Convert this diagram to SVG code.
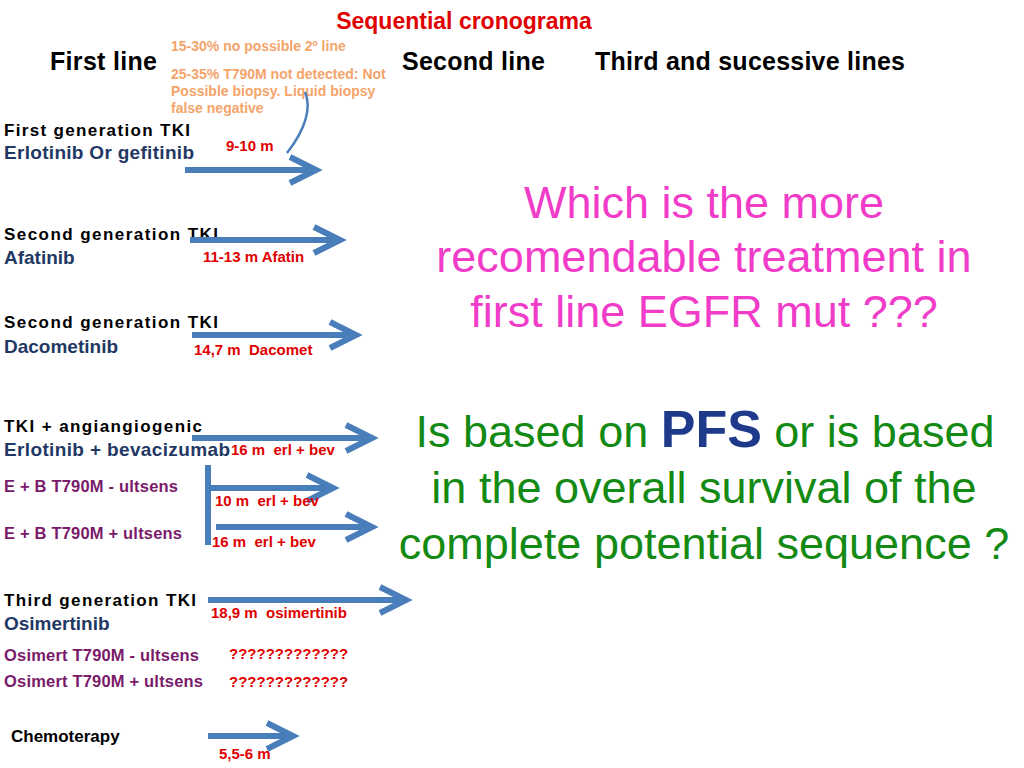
<svg xmlns="http://www.w3.org/2000/svg" width="1024" height="768" viewBox="0 0 1024 768">
<style>
text{font-family:"Liberation Sans",Arial,sans-serif;font-weight:bold;white-space:pre}
.h{font-size:25px;fill:#000}
.k{font-size:17px;fill:#000}
.b{font-size:19px;fill:#1f3864}
.p{font-size:16.5px;fill:#7a1a6a}
.r{font-size:15px;fill:#e00000}
.o{font-size:14px;fill:#f4a46a}
.a{fill:none;stroke:#4a7ebb;stroke-width:6;stroke-linecap:butt}
.big{font-weight:normal;font-size:45px;text-anchor:middle}
</style>
<rect width="1024" height="768" fill="#fff"/>
<g id="headers">
<text x="464" y="29" text-anchor="middle" font-size="23" fill="#e00000">Sequential cronograma</text>
<text x="50" y="70" class="h" textLength="107">First line</text>
<text x="402" y="70" class="h" textLength="143">Second line</text>
<text x="595" y="70" class="h" textLength="310">Third and sucessive lines</text>
</g>
<g id="notes">
<text x="171" y="51" class="o">15-30% no possible 2º line</text>
<text class="o"><tspan x="171" y="79">25-35% T790M not detected: Not</tspan><tspan x="171" y="96">Possible biopsy. Liquid biopsy</tspan><tspan x="171" y="113">false negative</tspan></text>
</g>
<g id="labels">
<text x="4" y="136" class="k" textLength="186">First generation TKI</text>
<text x="4" y="159" class="b" textLength="190">Erlotinib Or gefitinib</text>
<text x="4" y="240" class="k" textLength="214">Second generation TKI</text>
<text x="4" y="264" class="b">Afatinib</text>
<text x="4" y="328" class="k" textLength="214">Second generation TKI</text>
<text x="4" y="353" class="b">Dacometinib</text>
<text x="4" y="432" class="k" textLength="198">TKI + angiangiogenic</text>
<text x="4" y="456" class="b" textLength="226">Erlotinib + bevacizumab</text>
<text x="4" y="492" class="p" textLength="174">E + B T790M - ultsens</text>
<text x="4" y="539" class="p" textLength="178">E + B T790M + ultsens</text>
<text x="4" y="606" class="k" textLength="192">Third generation TKI</text>
<text x="4" y="630" class="b">Osimertinib</text>
<text x="4" y="661" class="p" textLength="195">Osimert T790M - ultsens</text>
<text x="4" y="687" class="p" textLength="199">Osimert T790M + ultsens</text>
<text x="11" y="742" class="k">Chemoterapy</text>
</g>
<g id="connectors">
<path class="a" d="M185 170H316M290 157L316 170L290 183"/>
<path d="M305 92C312 108 305 130 287 153" fill="none" stroke="#4a7ebb" stroke-width="2.5"/>
<path class="a" d="M190 240H340M314 227L340 240L314 253"/>
<path class="a" d="M192 335H356M330 322L356 335L330 348"/>
<path class="a" d="M192 438H372M346 425L372 438L346 451"/>
<path class="a" d="M208 465V545M210 488H333M307 475L333 488L307 501"/>
<path class="a" d="M216 527H372M346 514L372 527L346 540"/>
<path class="a" d="M208 600H406M380 587L406 600L380 613"/>
<path class="a" d="M208 736H293M267 723L293 736L267 749"/>
</g>
<g id="values">
<text x="226" y="151" class="r">9-10 m</text>
<text x="203" y="262" class="r">11-13 m Afatin</text>
<text x="194" y="355" class="r">14,7 m  Dacomet</text>
<text x="231" y="455" class="r">16 m  erl + bev</text>
<text x="215" y="506" class="r">10 m  erl + bev</text>
<text x="212" y="547" class="r">16 m  erl + bev</text>
<text x="211" y="618" class="r">18,9 m  osimertinib</text>
<text x="229" y="659" class="r">?????????????</text>
<text x="229" y="687" class="r">?????????????</text>
<text x="219" y="759" class="r">5,5-6 m</text>
</g>
<g id="question">
<text class="big" fill="#f03cc8"><tspan x="704" y="218">Which is the more</tspan><tspan x="704" y="272">recomendable treatment in</tspan><tspan x="704" y="327">first line EGFR mut ???</tspan></text>
<text class="big" fill="#138a13"><tspan x="705" y="447">Is based on <tspan fill="#1f3a8a" font-weight="bold" font-size="52">PFS</tspan> or is based</tspan><tspan x="704" y="503">in the overall survival of the</tspan><tspan x="704" y="559">complete potential sequence ?</tspan></text>
</g>
</svg>
